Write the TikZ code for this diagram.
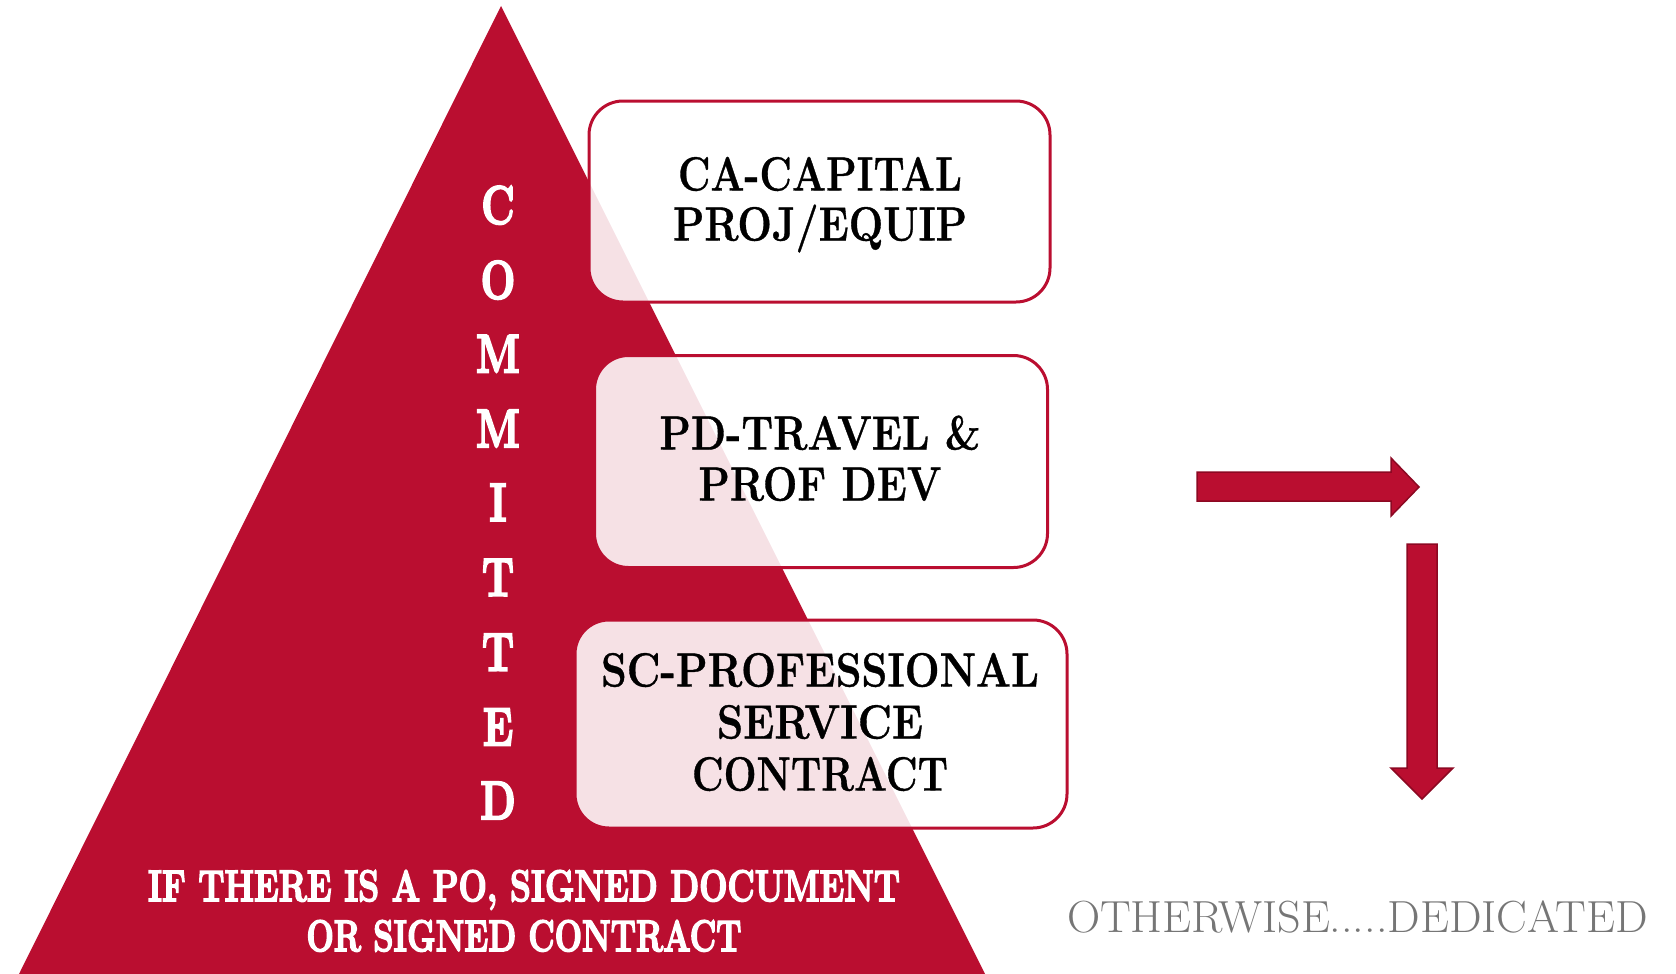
\documentclass[tikz,border=0pt]{standalone}
\usepackage{fontspec}
\usepackage{graphicx}
\newfontfamily\heavyfam{Latin Modern Roman}[FakeBold=4]
\newfontfamily\semifam{Latin Modern Roman}[FakeBold=0.8]
\definecolor{crim}{RGB}{186,14,48}
\definecolor{crimdark}{RGB}{140,8,34}
\definecolor{txtgray}{RGB}{118,118,118}
\newsavebox\fitbox
\newcommand\fitto[2]{\sbox\fitbox{#2}\pgfmathsetmacro\fitsx{#1/\the\wd\fitbox}\scalebox{\fitsx}[1]{\usebox\fitbox}}
\tikzset{
  catbox/.style={draw=crim, line width=3pt, fill=white, fill opacity=0.88, draw opacity=1, rounded corners=34pt, inner sep=0pt},
  boxtxt/.style={inner sep=0pt, anchor=base, text=black, font=\fontsize{48}{50}\selectfont\semifam\bfseries},
  vertltr/.style={inner sep=0pt, anchor=base, text=white, font=\fontsize{54}{56}\selectfont\heavyfam\bfseries},
  basetxt/.style={inner sep=0pt, anchor=base, text=white, font=\fontsize{44}{46}\selectfont\heavyfam\bfseries},
  graytxt/.style={inner sep=0pt, anchor=base, text=txtgray, font=\fontsize{45}{47}\selectfont},
  bigarrow/.style={fill=crim, draw=crimdark, line width=1.5pt, line join=miter}
}
\begin{document}
\begin{tikzpicture}[x=1pt,y=-1pt]
\useasboundingbox (0,0) rectangle (1676,974);
% pyramid
\fill[crim] (501,6) -- (985,974) -- (19,974) -- cycle;
% boxes
\node[catbox, minimum width=461pt, minimum height=201pt] (ca) at (819.5,201.5) {};
\node[catbox, minimum width=453pt, minimum height=212pt] (pd) at (821,461.5) {};
\node[catbox, minimum width=492pt, minimum height=208pt] (sc) at (821,724) {};
% box texts
\node[boxtxt] (ca1) at (820,190.5) {\fitto{284}{CA-CAPITAL}};
\node[boxtxt] (ca2) at (820,240.5) {\fitto{294}{PROJ/EQUIP}};
\node[boxtxt] (pd1) at (820,449.5) {\fitto{321}{PD-TRAVEL \&}};
\node[boxtxt] (pd2) at (820,500.5) {\fitto{243}{PROF DEV}};
\node[boxtxt] (sc1) at (820,686.5) {\fitto{438}{SC-PROFESSIONAL}};
\node[boxtxt] (sc2) at (820,738.5) {\fitto{206}{SERVICE}};
\node[boxtxt] (sc3) at (820,790.5) {\fitto{256}{CONTRACT}};
% vertical COMMITTED
\foreach \ch/\yy [count=\i] in {C/205.2, O/280.1, M/353.8, M/428.6, I/502.4, T/577.2, T/652.0, E/726.9, D/800.6}{
  \node[vertltr] (v\i) at (498,\yy+18.5) {\scalebox{0.76}[1]{\ch}};
}
% bottom text
\node[basetxt] (if1) at (524,901) {\fitto{752}{IF THERE IS A PO, SIGNED DOCUMENT}};
\node[basetxt] (if2) at (524,951) {\fitto{435}{OR SIGNED CONTRACT}};
% otherwise
\node[graytxt] (oth) at (1357.5,932.5) {\fitto{581}{OTHERWISE.....DEDICATED}};
% arrows
\draw[bigarrow] (1197,472) -- (1391,472) -- (1391,458) -- (1419,487) -- (1391,516) -- (1391,501) -- (1197,501) -- cycle;
\draw[bigarrow] (1407,544) -- (1437,544) -- (1437,768) -- (1453,768) -- (1422,799) -- (1391,768) -- (1407,768) -- cycle;
\end{tikzpicture}
\end{document}
